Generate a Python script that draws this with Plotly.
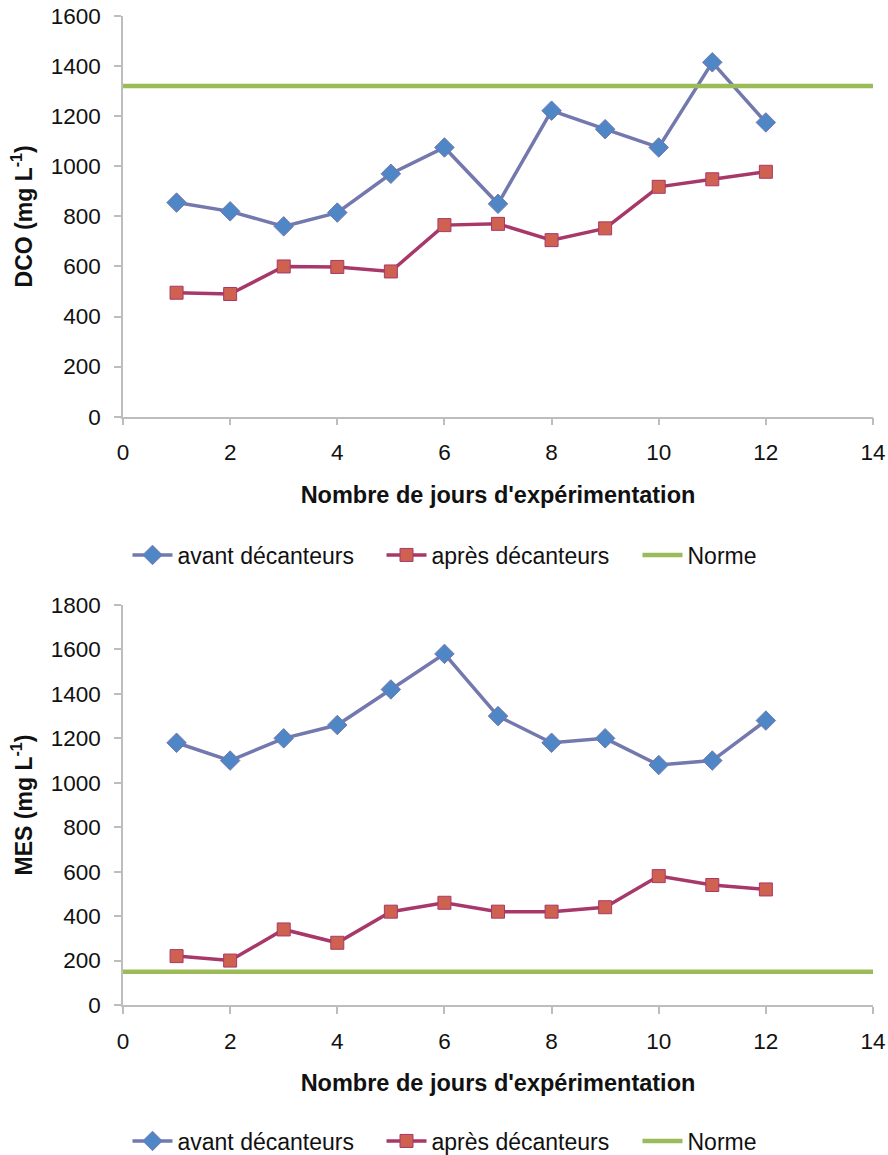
import plotly.graph_objects as go

# ---- data ----
jours = [1, 2, 3, 4, 5, 6, 7, 8, 9, 10, 11, 12]

dco_avant = [855, 820, 760, 815, 970, 1075, 850, 1222, 1148, 1075, 1415, 1175]
dco_apres = [495, 490, 600, 598, 580, 765, 770, 705, 752, 918, 948, 978]
dco_norme = 1320

mes_avant = [1180, 1100, 1200, 1260, 1420, 1580, 1300, 1180, 1200, 1080, 1100, 1280]
mes_apres = [220, 200, 340, 280, 420, 460, 420, 420, 440, 580, 540, 520]
mes_norme = 150

x_range = [0, 14]
x_ticks = [0, 2, 4, 6, 8, 10, 12, 14]
dco_range = [0, 1600]
mes_range = [0, 1800]

names = ["avant décanteurs", "après décanteurs", "Norme"]
x_title = "Nombre de jours d'expérimentation"
dco_title = "<b>DCO (mg L<sup>-1</sup>)</b>"
mes_title = "<b>MES (mg L<sup>-1</sup>)</b>"

# ---- styles ----
FONT = "Liberation Sans, Arial, sans-serif"
AVANT_LINE = "#7378ae"
AVANT_MARK = "#4f86c6"
APRES_LINE = "#a8386a"
APRES_MARK = "#cf6150"
NORME = "#9bbb59"
AXIS = "#bdbdbd"

W, H = 888, 1155
ML, MR, MT, MB = 123, 15, 16, 150
plot_w = W - ML - MR  # 750
plot_h = H - MT - MB  # 989
top_dom = [(1005 - 416.7) / plot_h, 1.0]
bot_dom = [0.0, (1005 - 605) / plot_h]

# legend item left edges (px) and rows (px)
leg_px = [133, 387, 643]
leg_rows = [555, 1141]

fig = go.Figure()

def add_block(xa, ya, avant, apres, norme, legs):
    fig.add_trace(go.Scatter(
        x=jours, y=avant, name=names[0], mode="lines+markers",
        line=dict(color=AVANT_LINE, width=3.5),
        marker=dict(symbol="diamond", size=15, color=AVANT_MARK,
                    line=dict(color=AVANT_LINE, width=1)),
        xaxis=xa, yaxis=ya, legend=legs[0]))
    fig.add_trace(go.Scatter(
        x=jours, y=apres, name=names[1], mode="lines+markers",
        line=dict(color=APRES_LINE, width=3.5),
        marker=dict(symbol="square", size=13, color=APRES_MARK,
                    line=dict(color=APRES_LINE, width=1)),
        xaxis=xa, yaxis=ya, legend=legs[1]))
    fig.add_trace(go.Scatter(
        x=x_range, y=[norme, norme], name=names[2], mode="lines",
        line=dict(color=NORME, width=4.5),
        xaxis=xa, yaxis=ya, legend=legs[2]))

add_block("x", "y", dco_avant, dco_apres, dco_norme, ["legend", "legend2", "legend3"])
add_block("x2", "y2", mes_avant, mes_apres, mes_norme, ["legend4", "legend5", "legend6"])

xaxis_common = dict(
    range=x_range, tickvals=x_ticks, showgrid=False, zeroline=False,
    showline=True, linecolor=AXIS, linewidth=1.5,
    ticks="outside", ticklen=7, tickcolor=AXIS, tickwidth=1.5,
    tickfont=dict(family=FONT, size=22.5, color="#111111"),
    ticklabelstandoff=8, automargin=False,
    title=dict(text="<b>" + x_title + "</b>",
               font=dict(family=FONT, size=23.5, color="#111111"), standoff=22),
)
yaxis_common = dict(
    showgrid=False, zeroline=False, dtick=200,
    showline=True, linecolor=AXIS, linewidth=1.5,
    ticks="outside", ticklen=7, tickcolor=AXIS, tickwidth=1.5,
    tickfont=dict(family=FONT, size=22.5, color="#111111"),
    ticklabelstandoff=9, automargin=False,
)

legends = {}
keys = ["legend", "legend2", "legend3", "legend4", "legend5", "legend6"]
for i, k in enumerate(keys):
    row = leg_rows[i // 3]
    px = leg_px[i % 3]
    legends[k] = dict(orientation="h", x=(px - 5.5 - ML) / plot_w, xanchor="left",
                      y=(1005 - row) / plot_h, yanchor="middle",
                      font=dict(family=FONT, size=23, color="#111111"),
                      bgcolor="rgba(0,0,0,0)", itemwidth=40)

fig.update_layout(
    width=W, height=H,
    margin=dict(l=ML, r=MR, t=MT, b=MB, autoexpand=False),
    paper_bgcolor="white", plot_bgcolor="white",
    font=dict(family=FONT, size=22, color="#111111"),
    xaxis=dict(**xaxis_common, domain=[0, 1], anchor="y"),
    yaxis=dict(**yaxis_common, range=dco_range, domain=top_dom, anchor="x",
               title=dict(text=dco_title, font=dict(family=FONT, size=23), standoff=12)),
    xaxis2=dict(**xaxis_common, domain=[0, 1], anchor="y2"),
    yaxis2=dict(**yaxis_common, range=mes_range, domain=bot_dom, anchor="x2",
                title=dict(text=mes_title, font=dict(family=FONT, size=23), standoff=12)),
    showlegend=True,
    **legends,
)

fig.write_html("out.html")
